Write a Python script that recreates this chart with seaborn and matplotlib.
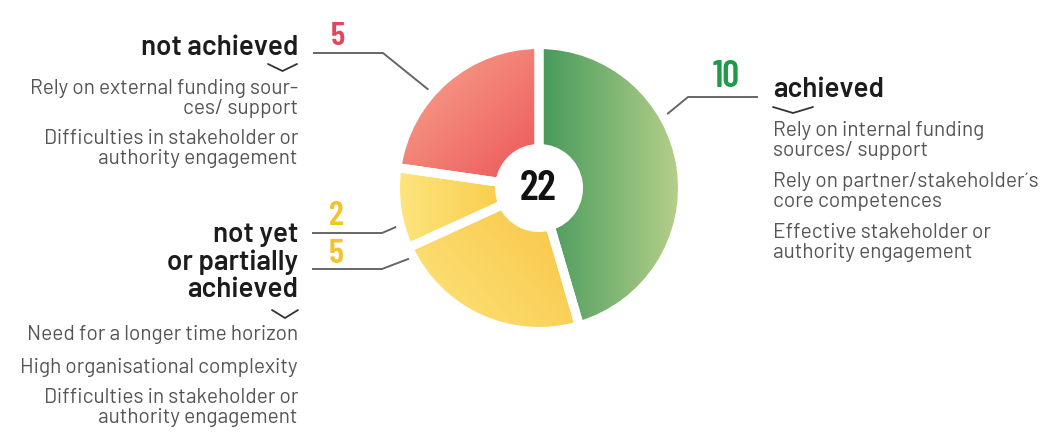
import numpy as np
import matplotlib
matplotlib.use("Agg")
import matplotlib.pyplot as plt
import seaborn as sns

# data
groups = ["achieved", "not yet achieved", "partially achieved", "not achieved"]
counts = [10, 5, 2, 5]
total = sum(counts)

achieved_title = ["achieved"]
achieved_notes = ["Rely on internal funding", "sources/ support",
                  "Rely on partner/stakeholder\u00b4s", "core competences",
                  "Effective stakeholder or", "authority engagement"]

not_achieved_title = ["not achieved"]
not_achieved_notes = ["Rely on external funding sour-", "ces/ support",
                      "Difficulties in stakeholder or", "authority engagement"]

partial_title = ["not yet", "or partially", "achieved"]
partial_notes = ["Need for a longer time horizon",
                 "High organisational complexity",
                 "Difficulties in stakeholder or", "authority engagement"]

W, H = 1057, 432

sns.set_theme(style="white")
plt.rcParams["font.family"] = ["Barlow", "DejaVu Sans"]

num_family = ["Barlow Condensed", "Fira Sans Condensed", "DejaVu Sans"]

fig = plt.figure(figsize=(W / 100, H / 100), dpi=100)
ax = fig.add_axes([0, 0, 1, 1])

# gradient (start, end, direction in degrees) per slice
shades = [("#45995b", "#b8d18b", 0),
          ("#fde57e", "#f8c443", 40),
          ("#fde57e", "#f9cd4c", 0),
          ("#f8ab90", "#ec5459", -45)]
number_colors = ["#1f9a4b", "#f2c42b", "#f2c42b", "#e2465a"]

cx, cy = 539, H - 188
R, hole = 143.5, 39.5

wedges, _ = ax.pie(counts, radius=R, center=(cx, cy), startangle=90,
                   counterclock=False,
                   colors=[s[1] for s in shades],
                   wedgeprops=dict(width=R - hole, linewidth=0))

for w, (c0, c1, ang) in zip(wedges, shades):
    bb = w.get_path().get_extents()
    xs = np.linspace(bb.x0, bb.x1, 200)
    ys = np.linspace(bb.y0, bb.y1, 200)
    X, Y = np.meshgrid(xs, ys)
    a = np.deg2rad(ang)
    t = X * np.cos(a) + Y * np.sin(a)
    t = (t - t.min()) / (t.max() - t.min())
    cmap = sns.blend_palette([c0, c1], n_colors=256, as_cmap=True)
    im = ax.imshow(t, extent=(bb.x0, bb.x1, bb.y0, bb.y1), origin="lower",
                   cmap=cmap, aspect="auto", interpolation="bilinear", zorder=2)
    im.set_clip_path(w)

# white gaps between slices
ax.pie(counts, radius=R, center=(cx, cy), startangle=90, counterclock=False,
       wedgeprops=dict(width=R - hole, facecolor="none", edgecolor="white",
                       linewidth=6.5, zorder=3))

ax.text(538, H - 200, str(total), ha="center", va="baseline",
        family=num_family, fontweight="semibold", fontsize=31,
        color="#111111", zorder=4)

# count labels with leader lines
num_pos = [(726, 87, 27), (336, 263, 25), (336, 225, 25), (338, 45, 24)]
leaders = [[(758, 97), (688, 97), (660, 120)],
           [(312, 269), (382, 269), (416, 256)],
           [(312, 233), (382, 233), (403, 224)],
           [(313, 53), (383, 53), (435, 95)]]
for n, col, (x, y, fs), pts in zip(counts, number_colors, num_pos, leaders):
    ax.text(x, H - y, str(n), ha="center", va="baseline", family=num_family,
            fontweight="semibold", fontsize=fs, color=col)
    px, py = zip(*pts)
    ax.plot(px, [H - v for v in py], color="#666666", lw=1.4,
            solid_capstyle="butt", zorder=1)


def chevron(x0, x1, ytop, depth):
    xm = (x0 + x1) / 2
    ax.plot([x0, xm, x1], [H - ytop, H - ytop - depth, H - ytop],
            color="#333333", lw=1.3)


title_kw = dict(fontsize=20, fontweight="semibold", color="#1c1c1c",
                va="baseline")
note_kw = dict(fontsize=15, color="#555555", va="baseline")

# right block
ax.text(773, H - 97, achieved_title[0], ha="left", **title_kw)
chevron(773, 813, 107, 6)
for s, y in zip(achieved_notes, [136, 156, 187, 207, 238, 258]):
    ax.text(773, H - y, s, ha="left", **note_kw)

# left top block
ax.text(298, H - 55, not_achieved_title[0], ha="right", **title_kw)
chevron(268, 297, 64, 7)
for s, y in zip(not_achieved_notes, [94, 114, 144, 164]):
    ax.text(298, H - y, s, ha="right", **note_kw)

# left bottom block
for s, y in zip(partial_title, [242, 270, 297]):
    ax.text(298, H - y, s, ha="right", **title_kw)
chevron(272, 298, 310, 8)
for s, y in zip(partial_notes, [340, 373, 403, 423]):
    ax.text(298, H - y, s, ha="right", **note_kw)

ax.set_xlim(0, W)
ax.set_ylim(0, H)
ax.set_aspect("equal")
ax.axis("off")

fig.savefig("out.png", dpi=100)
plt.close(fig)
